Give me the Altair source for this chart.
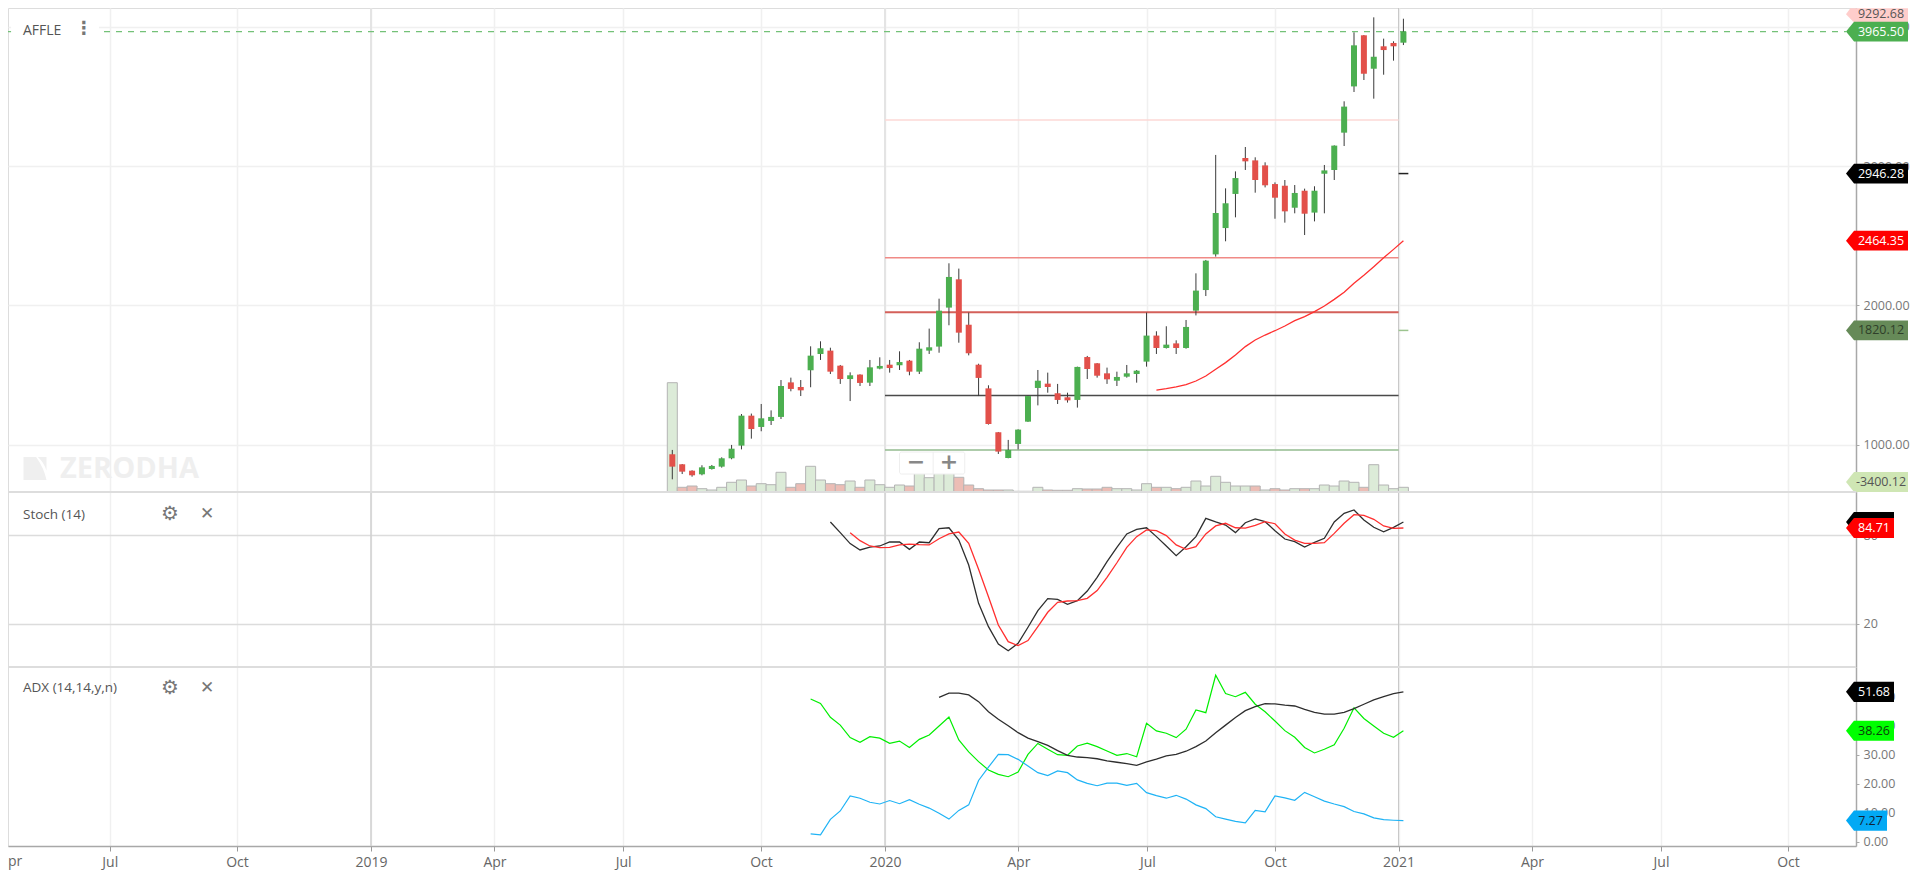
import json
import altair as alt
import pandas as pd

# ---- weekly candles (x = week number on the chart's time axis) ----
week = list(range(75))
open_price = [931,859,813,787,825,842,902,993,1208,1127,1170,1199,1447,1414,1534,1651,1675,1567,1471,1503,1445,1546,1574,1570,1603,
              1524,1675,1704,1984,2187,1861,1574,1404,1089,904,1005,1165,1407,1438,1369,1340,1321,1629,1584,1512,1459,1488,1507,1596,1783,
              1694,1727,1694,1962,2110,2366,2555,2800,3058,3041,3005,2871,2859,2701,2823,2666,2945,2972,3240,3572,3939,3699,3860,3884,3886]
close_price = [842,806,780,837,847,902,971,1208,1112,1189,1199,1421,1400,1390,1639,1692,1524,1471,1498,1443,1555,1565,1550,1593,1524,
               1689,1699,1962,2204,1804,1656,1479,1148,950,962,1108,1349,1459,1414,1321,1318,1558,1543,1495,1469,1486,1512,1531,1783,1694,
               1718,1694,1845,2106,2321,2663,2733,2914,3034,2900,2862,2773,2675,2807,2658,2823,2969,3147,3427,3867,3663,3785,3833,3860,3965.5]
high_price = [962,861,816,852,854,909,998,1220,1223,1292,1246,1464,1481,1464,1706,1742,1696,1572,1519,1505,1608,1627,1608,1670,1608,
              1735,1833,2048,2302,2264,1948,1581,1426,1091,1034,1110,1352,1536,1517,1436,1373,1560,1637,1586,1553,1524,1572,1536,1948,1814,
              1850,1749,1895,2230,2326,3080,2840,2962,3137,3063,3027,2883,2900,2864,2838,2855,3008,3149,3465,3960,3941,4068,3915,3896,4058]
low_price = [751,789,770,780,821,835,895,966,1043,1096,1141,1184,1383,1349,1412,1608,1507,1436,1313,1421,1421,1541,1517,1536,1498,
             1507,1651,1660,1857,1732,1641,1349,1144,933,902,966,1163,1282,1373,1292,1302,1266,1471,1481,1436,1421,1481,1445,1560,1651,
             1690,1651,1689,1928,2067,2350,2460,2632,2972,2809,2847,2622,2594,2661,2505,2603,2661,2900,3144,3532,3618,3484,3656,3757,3869]
volume = [109.3,4.7,6,3.3,2,4.7,9.7,12,6,8.3,7.3,19.7,4.7,8.3,25.7,12,8.3,7.3,11,4.7,12,7.3,4.7,7,6,
          27,14.3,25,27,14.7,7,3.3,2,2,2,0.7,0.7,4.7,2,1.7,1.7,3.3,3,3,4.7,3.3,3.3,2,8.3,4.7,
          4.7,3.3,4.7,11,6,15.7,9.7,6,6,6,2,3.3,2,3.3,3.3,3.3,7,6,11,9.7,4.7,27.3,7,3.3,4.7]
volume_up = [1,0,0,1,1,1,1,1,0,1,1,1,0,0,1,1,0,0,1,0,1,1,1,1,0,
             1,1,1,1,0,0,0,0,0,1,1,1,1,0,0,0,1,0,0,0,1,1,1,1,0,
             1,0,1,1,1,1,1,1,1,0,1,0,0,1,0,1,1,1,1,1,0,1,1,1,1]

ma_week = list(range(49, 75))
ma_value = [1392,1402,1414,1431,1457,1493,1541,1589,1644,1704,1751,1787,1818,1852,1890,1919,1955,1995,2043,2094,2158,2216,2278,2342,2402,2464.35]

# ---- stochastic ----
stoch_k_week = list(range(16, 75))
stoch_k = [88.8,81.6,74.2,69.9,71.9,72.6,75.3,75.3,70.3,75.3,74.8,84.3,84.9,76.6,59.8,33.9,18.2,6.5,2.0,7.0,17.8,29.0,37.1,36.6,33.3,35.7,42.2,51.5,62.0,71.7,
           80.7,83.8,84.9,78.9,72.6,66.1,72.1,78.9,91.2,88.8,86.7,81.6,88.3,90.8,89.0,82.9,77.3,75.5,71.9,75.1,77.8,88.8,94.6,96.9,90.1,85.2,82.2,85.2,88.8]
stoch_d_week = list(range(18, 75))
stoch_d = [81.6,76.2,72.6,71.5,71.7,73.3,73.9,73.5,73.3,77.5,80.7,82.0,74.4,56.9,38.4,19.3,8.1,5.4,8.8,18.2,27.9,34.6,35.5,35.7,37.3,42.5,51.5,61.3,71.7,78.9,
           83.4,82.9,79.6,73.3,70.3,72.1,80.7,86.1,87.9,84.9,84.7,86.5,89.0,87.6,80.7,76.6,74.4,74.4,74.8,81.1,87.9,93.7,93.3,90.6,86.1,84.5,84.71]

# ---- ADX ----
di_week = list(range(14, 75))
di_plus = [49.2,47.7,42.9,40.2,35.9,34.3,36.2,35.7,33.9,34.7,32.5,35.3,36.8,39.9,43.0,35.1,31.0,27.6,24.7,23.2,22.4,24.0,30.1,33.9,31.9,30.0,29.8,33.0,34.0,32.8,
           31.3,29.8,30.4,29.3,40.8,38.2,37.4,35.9,38.8,45.4,44.5,57.4,51.1,50.0,51.5,47.4,44.8,41.6,38.3,36.0,32.5,30.6,31.9,33.4,39.1,46.2,42.5,39.9,37.4,36.0,38.26]
di_minus = [2.7,2.4,7.7,10.6,15.8,15.0,13.6,13.0,14.2,13.1,14.5,12.9,11.6,9.8,7.8,10.8,12.7,21.1,25.7,30.1,30.0,28.4,26.1,23.8,22.8,24.4,23.8,21.3,20.1,19.3,
            20.2,20.2,19.4,20.1,16.9,15.9,15.0,16.0,14.7,12.7,11.4,8.6,7.8,7.0,6.5,10.8,10.3,15.8,15.1,14.3,17.0,15.5,14.0,13.0,12.1,10.4,9.6,8.2,7.6,7.4,7.27]
adx_week = list(range(27, 75))
adx_value = [49.8,51.2,51.2,50.6,48.3,44.8,42.2,40.0,37.6,35.7,34.5,33.2,31.4,29.8,29.2,29.0,28.6,27.9,27.4,26.9,26.3,27.5,28.5,29.6,30.1,31.2,32.8,34.7,37.6,40.2,
             42.8,45.2,46.6,47.6,47.5,47.1,46.8,45.6,44.6,44.0,44.0,44.6,45.9,47.4,48.9,50.0,51.1,51.68]

# ---- axis ticks, in week units ----
tick_weeks = [-56.94,-44.06,-30.5,-18.0,-4.98,8.98,21.53,35.02,48.08,61.0,73.51,87.01,100.07,112.93]
tick_labels = ["Jul","Oct","2019","Apr","Jul","Oct","2020","Apr","Jul","Oct","2021","Apr","Jul","Oct"]
wide_year_weeks = [-30.5,21.53]
thin_year_weeks = [73.51]
x_domain = [-67.24,119.81]

# ---- pivot levels ----
level_value = [3331,2342,1950,1352,962]
level_color = ["#fdd9d6","#f08a86","#d4605a","#4a4a4a","#93bb8f"]
level_width = [1.5,1.5,2,1.5,1.5]
level_from = 21.53
level_to = 73.51
stub_value = [2946.28,1820.12]
stub_color = ["#222222","#9cc48f"]

# ---- price tags on the right ----
tag_text = ["9292.68","3965.50","2946.28","2464.35","1820.12","-3400.12"]
tag_level = [4091,3965.5,2946.28,2464.35,1820.12,732]
tag_fill = ["#ffcdcb","#4caf50","#000000","#ff0000","#668a58","#cfe6b4"]
tag_ink = ["#555555","#ffffff","#ffffff","#ffffff","#2f3f2a","#555555"]

GREEN, RED = "#4caf50", "#e2504a"
FONT = "Open Sans"
W, H1, H2, H3 = 1848, 484, 175, 179
x_scale = alt.Scale(domain=x_domain, nice=False, zero=False, padding=0)
TAG = "M-1,0L-0.74,-0.32L1,-0.32L1,0.32L-0.74,0.32Z"
TAG_TOP = "M-1,0L-0.86,-0.19L1,-0.19L1,0.27L-0.74,0.27Z"


def x_axis(show):
    expr = "[" + ",".join(json.dumps(v) for v in tick_labels) + "][indexof([" + ",".join(str(v) for v in tick_weeks) + "],datum.value)]"
    common = dict(values=tick_weeks, title=None, grid=True, gridColor="#f0f0f0", gridWidth=1.5)
    if show:
        return alt.Axis(labelExpr=expr, labelOverlap=False, labelFlush=False, labelFont=FONT, labelFontSize=14,
                        labelColor="#666666", labelPadding=4, tickSize=5, tickColor="#999999", domainColor="#a8a8a8",
                        domainWidth=1.5, **common)
    return alt.Axis(labels=False, ticks=False, domain=False, **common)


def years(values, color, width):
    return alt.Chart(pd.DataFrame({"w": values})).mark_rule(color=color, strokeWidth=width).encode(
        x=alt.X("w:Q", scale=x_scale, axis=None))


def note(text, x, y, size=14, color="#555555", font=FONT, weight="normal", align="left"):
    return alt.Chart(pd.DataFrame({"label": [text]})).mark_text(
        align=align, baseline="middle", font=font, fontSize=size, fontWeight=weight, color=color
    ).encode(x=alt.value(x), y=alt.value(y), text="label:N")


def top_rule(color="#dddddd", width=2):
    return alt.Chart(pd.DataFrame({"k": [0]})).mark_rule(color=color, strokeWidth=width).encode(
        x=alt.value(0), x2=alt.value(W), y=alt.value(0))


# ================= price panel =================
price_scale = alt.Scale(domain=[660, 4135], nice=False, zero=False, padding=0)
vol_scale = alt.Scale(domain=[0, 484], nice=False, zero=False, padding=0)
candles = pd.DataFrame({"w": week, "o": open_price, "c": close_price, "h": high_price, "l": low_price, "v": volume,
                        "up": volume_up})
candles["color"] = [GREEN if c >= o else RED for o, c in zip(open_price, close_price)]
candles["vcolor"] = ["#dcebd8" if u else "#ecbdb5" for u in volume_up]

Yp = lambda f: alt.Y(f, type="quantitative", scale=price_scale, axis=None, title=None)
price_axis = alt.Axis(orient="right", values=[1000, 2000, 3000, 4000], format=".2f", title=None, grid=True,
                      gridColor="#f0f0f0", gridWidth=1.5, tickSize=3, tickColor="#aaaaaa", domainColor="#a8a8a8",
                      domainWidth=1.5, labelFont=FONT, labelFontSize=12.5, labelColor="#777777", labelPadding=4)
Xw = alt.X("w:Q", scale=x_scale, axis=None)

axes_layer = alt.Chart(candles).mark_rule(opacity=0).encode(
    x=alt.X("w:Q", scale=x_scale, axis=x_axis(False)),
    y=alt.Y("c:Q", scale=price_scale, axis=price_axis, title=None))

watermark_icon = alt.Chart(pd.DataFrame({"k": [0]})).mark_point(
    filled=True, opacity=1, color="#efefef", size=529,
    shape="M-1,-1L0.1,-1Q0.8,0 1,1L-1,1ZM0.25,-1L1,-1L1,0.2Q0.8,-0.5 0.25,-1Z"
).encode(x=alt.value(27), y=alt.value(460.5))
watermark = note("ZERODHA", 52, 461, size=29, color="#efefef", weight="bold")

vol_bars = alt.Chart(candles).mark_bar(size=10, stroke="#b4b4b4", strokeWidth=1).encode(
    x=Xw, y=alt.Y("v:Q", scale=vol_scale, axis=None, title=None), y2=alt.Y2(datum=0),
    color=alt.Color("vcolor:N", scale=None))

dash = alt.Chart(pd.DataFrame({"w": [x_domain[0]], "w2": [118.8], "p": [3965.5]})).mark_rule(
    color="#74c178", strokeWidth=1.3, strokeDash=[6, 6]
).encode(x=Xw, x2="w2:Q", y=Yp("p"))
legend_box = alt.Chart(pd.DataFrame({"a": [-66.93], "b": [-58.03], "c": [4049], "d": [3905]})).mark_rect(color="white").encode(
    x=alt.X("a:Q", scale=x_scale, axis=None), x2="b:Q", y=Yp("c"), y2="d:Q")

levels = alt.Chart(pd.DataFrame({"p": level_value, "color": level_color, "sw": level_width, "w": level_from, "w2": level_to})).mark_rule().encode(
    x=Xw, x2="w2:Q", y=Yp("p"), color=alt.Color("color:N", scale=None), strokeWidth=alt.StrokeWidth("sw:Q", scale=None))
stubs = alt.Chart(pd.DataFrame({"p": stub_value, "color": stub_color, "w": level_to, "w2": 74.5})).mark_rule(strokeWidth=1.5).encode(
    x=Xw, x2="w2:Q", y=Yp("p"), color=alt.Color("color:N", scale=None))
wicks = alt.Chart(candles).mark_rule(color="#3a3a3a", strokeWidth=1).encode(x=Xw, y=Yp("h"), y2="l:Q")
bodies = alt.Chart(candles).mark_bar(size=6).encode(x=Xw, y=Yp("o"), y2="c:Q", color=alt.Color("color:N", scale=None))
ma_line = alt.Chart(pd.DataFrame({"w": ma_week, "p": ma_value})).mark_line(color="#ff2f2f", strokeWidth=1.3).encode(x=Xw, y=Yp("p"))

widget = alt.Chart(pd.DataFrame({"a": [23.0], "b": [29.6], "c": [947], "d": [789]})).mark_rect(
    color="#ffffff", stroke="#eeeeee", strokeWidth=1, cornerRadius=2
).encode(x=alt.X("a:Q", scale=x_scale, axis=None), x2="b:Q", y=Yp("c"), y2="d:Q")
widget_sep = alt.Chart(pd.DataFrame({"w": [26.4], "c": [947], "d": [789]})).mark_rule(color="#eeeeee").encode(x=Xw, y=Yp("c"), y2="d:Q")
minus = note("\u2212", 908, 454, size=22, color="#888888", weight="bold", align="center", font="DejaVu Sans")
plus = note("+", 941, 454, size=22, color="#888888", weight="bold", align="center", font="DejaVu Sans")

affle = note("AFFLE", 15, 22.5, size=14)
affle_dots = note("\u22ee", 76, 21, size=18, color="#777777", font="DejaVu Sans", weight="bold", align="center")

tags = pd.DataFrame({"text": tag_text, "p": tag_level, "fill": tag_fill, "ink": tag_ink})
tag_shapes_top = alt.Chart(tags.iloc[:1]).mark_point(filled=True, opacity=1, size=3844, shape=TAG_TOP).encode(
    x=alt.value(1869), y=Yp("p"), color=alt.Color("fill:N", scale=None))
tag_shapes = alt.Chart(tags.iloc[1:]).mark_point(filled=True, opacity=1, size=3844, shape=TAG).encode(
    x=alt.value(1869), y=Yp("p"), color=alt.Color("fill:N", scale=None))
tag_texts = alt.Chart(tags).mark_text(font=FONT, fontSize=12.5, align="center", baseline="middle").encode(
    x=alt.value(1873), y=Yp("p"), text="text:N", color=alt.Color("ink:N", scale=None))

price_panel = alt.layer(
    axes_layer, watermark_icon, watermark, years(wide_year_weeks, "#e4e4e4", 2), years(thin_year_weeks, "#c6c6c6", 1),
    dash, legend_box, levels, stubs, vol_bars, wicks,
    bodies, ma_line, widget, widget_sep, minus, plus, affle, affle_dots, tag_shapes_top, tag_shapes, tag_texts
).resolve_scale(y="independent").resolve_axis(x="independent", y="independent").properties(width=W, height=H1)

# ================= stochastic panel =================
st_scale = alt.Scale(domain=[-9, 109], nice=False, zero=False)
Ys = lambda f: alt.Y(f, type="quantitative", scale=st_scale, axis=None, title=None)
st_axis = alt.Axis(orient="right", values=[20, 80], format="d", title=None, grid=True, gridColor="#dcdcdc", gridWidth=1.5,
                   tickSize=3, tickColor="#aaaaaa", domainColor="#a8a8a8", domainWidth=1.5, labelFont=FONT,
                   labelFontSize=12.5, labelColor="#777777", labelPadding=4)
st_k = pd.DataFrame({"w": stoch_k_week, "v": stoch_k})
st_d = pd.DataFrame({"w": stoch_d_week, "v": stoch_d})
st_axes = alt.Chart(st_k).mark_rule(opacity=0).encode(
    x=alt.X("w:Q", scale=x_scale, axis=x_axis(False)), y=alt.Y("v:Q", scale=st_scale, axis=st_axis, title=None))
st_line_k = alt.Chart(st_k).mark_line(color="#2e2e2e", strokeWidth=1.3).encode(x=Xw, y=Ys("v"))
st_line_d = alt.Chart(st_d).mark_line(color="#ff2f2f", strokeWidth=1.3).encode(x=Xw, y=Ys("v"))
st_tags = pd.DataFrame({"p": [88.8, 84.71], "fill": ["#000000", "#ff0000"]})
st_shapes = alt.Chart(st_tags).mark_point(filled=True, opacity=1, size=2304, shape="M-1,0L-0.67,-0.42L1,-0.42L1,0.42L-0.67,0.42Z").encode(
    x=alt.value(1862), y=Ys("p"), color=alt.Color("fill:N", scale=None))
st_text = alt.Chart(pd.DataFrame({"p": [84.71], "t": ["84.71"]})).mark_text(
    font=FONT, fontSize=12.5, color="white", align="center", baseline="middle"
).encode(x=alt.value(1866), y=Ys("p"), text="t:N")

stoch_panel = alt.layer(
    st_axes, years(wide_year_weeks, "#cfcfcf", 1.5), years(thin_year_weeks, "#c6c6c6", 1), top_rule(), st_line_k, st_line_d,
    note("Stoch (14)", 15, 23, size=13.5),
    note("\u2699", 162, 22, size=20, color="#777777", font="DejaVu Sans", align="center"),
    note("\u2715", 199, 22, size=17, color="#777777", font="DejaVu Sans", weight="bold", align="center"),
    st_shapes, st_text
).resolve_axis(x="independent", y="independent").properties(width=W, height=H2)

# ================= ADX panel =================
ad_scale = alt.Scale(domain=[-1.48, 60.24], nice=False, zero=False)
Ya = lambda f: alt.Y(f, type="quantitative", scale=ad_scale, axis=None, title=None)
ad_axis = alt.Axis(orient="right", values=[0, 10, 20, 30, 40, 50], format=".2f", title=None, grid=False,
                   tickSize=3, tickColor="#aaaaaa", domainColor="#a8a8a8", domainWidth=1.5, labelFont=FONT,
                   labelFontSize=12.5, labelColor="#777777", labelPadding=4)
plus_df = pd.DataFrame({"w": di_week, "v": di_plus})
minus_df = pd.DataFrame({"w": di_week, "v": di_minus})
adx_df = pd.DataFrame({"w": adx_week, "v": adx_value})
ad_axes = alt.Chart(plus_df).mark_rule(opacity=0).encode(
    x=alt.X("w:Q", scale=x_scale, axis=x_axis(True)), y=alt.Y("v:Q", scale=ad_scale, axis=ad_axis, title=None))
ad_tags = pd.DataFrame({"t": ["51.68", "38.26"], "p": [51.68, 38.26], "fill": ["#000000", "#00ff00"], "ink": ["#ffffff", "#0b3d0b"]})
ad_shapes = alt.Chart(ad_tags).mark_point(filled=True, opacity=1, size=2304, shape="M-1,0L-0.67,-0.42L1,-0.42L1,0.42L-0.67,0.42Z").encode(
    x=alt.value(1862), y=Ya("p"), color=alt.Color("fill:N", scale=None))
ad_texts = alt.Chart(ad_tags).mark_text(font=FONT, fontSize=12.5, align="center", baseline="middle").encode(
    x=alt.value(1866), y=Ya("p"), text="t:N", color=alt.Color("ink:N", scale=None))
blue_df = pd.DataFrame({"t": ["7.27"], "p": [7.27]})
blue_shape = alt.Chart(blue_df).mark_point(filled=True, opacity=1, size=1681, color="#03a9f4", shape="M-1,0L-0.61,-0.49L1,-0.49L1,0.49L-0.61,0.49Z").encode(
    x=alt.value(1858.5), y=Ya("p"))
blue_text = alt.Chart(blue_df).mark_text(font=FONT, fontSize=12.5, color="#123", align="center", baseline="middle").encode(
    x=alt.value(1862.5), y=Ya("p"), text="t:N")

adx_panel = alt.layer(
    ad_axes, years(wide_year_weeks, "#cfcfcf", 1.5), years(thin_year_weeks, "#c6c6c6", 1), top_rule(),
    alt.Chart(plus_df).mark_line(color="#00ee00", strokeWidth=1.2).encode(x=Xw, y=Ya("v")),
    alt.Chart(minus_df).mark_line(color="#1fb3f5", strokeWidth=1.2).encode(x=Xw, y=Ya("v")),
    alt.Chart(adx_df).mark_line(color="#2e2e2e", strokeWidth=1.3).encode(x=Xw, y=Ya("v")),
    note("ADX (14,14,y,n)", 15, 21, size=13.5),
    note("\u2699", 162, 21, size=20, color="#777777", font="DejaVu Sans", align="center"),
    note("\u2715", 199, 21, size=17, color="#777777", font="DejaVu Sans", weight="bold", align="center"),
    note("pr", 0, 195, size=14, color="#666666"),
    ad_shapes, ad_texts, blue_shape, blue_text
).resolve_axis(x="independent", y="independent").properties(width=W, height=H3)

chart = alt.vconcat(price_panel, stoch_panel, adx_panel, spacing=0, bounds="flush",
                    padding={"left": -2, "top": -2, "right": 0, "bottom": 0}).resolve_scale(
    x="shared", color="independent"
).configure_view(stroke=None).configure(background="white")

chart.save("out.html", embed_options={"renderer": "svg", "actions": False})
